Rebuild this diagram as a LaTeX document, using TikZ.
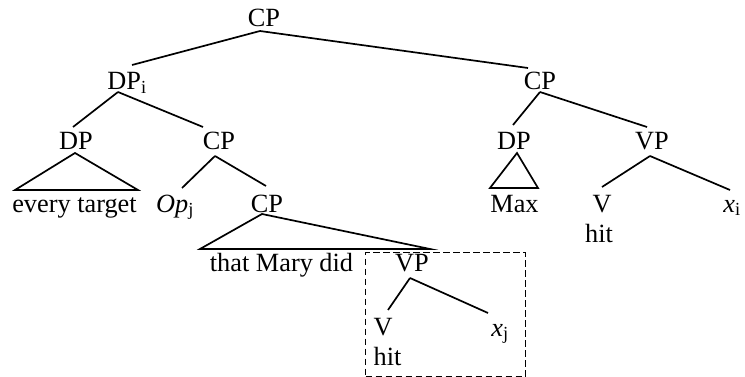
\documentclass[tikz,border=0pt]{standalone}
\usepackage{fontspec}
\setmainfont{Liberation Serif}
\usetikzlibrary{calc}
\begin{document}
\begin{tikzpicture}[x=1pt,y=-1pt,
  lbl/.style={inner sep=0pt, anchor=base, font=\fontsize{26.3}{30}\selectfont},
  br/.style={line width=1.7pt},
  dbox/.style={draw, line width=1.4pt, dash pattern=on 6.5pt off 3.5pt, inner sep=0pt, anchor=north west}]
\useasboundingbox (0,0) rectangle (745,377);
% nodes
\node[lbl] (cp0) at (264,27) {CP};
\node[lbl] (dpi) at (127,90) {DP\textsubscript{i}};
\node[lbl] (cp1) at (540,90) {CP};
\node[lbl] (dp1) at (76,150) {DP};
\node[lbl] (cp2) at (219,150) {CP};
\node[lbl] (dp2) at (514,150) {DP};
\node[lbl] (vp1) at (652,150) {VP};
\node[lbl] (every) at (74.5,212) {every target};
\node[lbl] (op) at (175,212) {\textit{Op}\textsubscript{j}};
\node[lbl] (cp3) at (267,213) {CP};
\node[lbl] (max) at (514.5,212) {Max};
\node[lbl] (v1) at (602,212) {V};
\node[lbl] (xi) at (732,212) {\textit{x}\textsubscript{i}};
\node[lbl] (hit1) at (599,243) {hit};
\node[lbl] (tmd) at (281.5,272) {that Mary did};
\node[lbl] (vp2) at (412,272) {VP};
\node[lbl] (v2) at (383,335) {V};
\node[lbl] (xj) at (500,336) {\textit{x}\textsubscript{j}};
\node[lbl] (hit2) at (387.5,365) {hit};
\node[dbox, minimum width=160pt, minimum height=124pt] (box) at (365,252) {};
% branches
\draw[br] ($(cp0.base)+(-4,4)$) -- ($(dpi.base)+(5,-25)$);
\draw[br] ($(cp0.base)+(-4,4)$) -- ($(cp1.base)+(-12,-22)$);
\draw[br] ($(dpi.base)+(-9,2)$) -- ($(dp1.base)+(-3,-23)$);
\draw[br] ($(dpi.base)+(-9,2)$) -- ($(cp2.base)+(-16,-23)$);
\draw[br] ($(dp1.base)+(-1,3)$) -- ($(every.base)+(-59.5,-22)$) -- ($(every.base)+(63.5,-22)$) -- cycle;
\draw[br] ($(cp2.base)+(-4,6)$) -- ($(op.base)+(7,-24)$);
\draw[br] ($(cp2.base)+(-4,6)$) -- ($(cp3.base)+(-1,-27)$);
\draw[br] ($(cp3.base)+(-5,1)$) -- ($(tmd.base)+(-81.5,-23)$) -- ($(tmd.base)+(148.5,-23)$) -- cycle;
\draw[br] ($(vp2.base)+(-2,6)$) -- ($(v2.base)+(5,-25)$);
\draw[br] ($(vp2.base)+(-2,6)$) -- ($(xj.base)+(-12,-23)$);
\draw[br] ($(cp1.base)+(0,2)$) -- ($(dp2.base)+(-1,-25)$);
\draw[br] ($(cp1.base)+(0,2)$) -- ($(vp1.base)+(-5,-23)$);
\draw[br] ($(dp2.base)+(3,3)$) -- ($(max.base)+(-24.5,-24)$) -- ($(max.base)+(23.5,-24)$) -- cycle;
\draw[br] ($(vp1.base)+(-2,6)$) -- ($(v1.base)+(0,-25)$);
\draw[br] ($(vp1.base)+(-2,6)$) -- ($(xi.base)+(-2,-22)$);
\end{tikzpicture}
\end{document}
